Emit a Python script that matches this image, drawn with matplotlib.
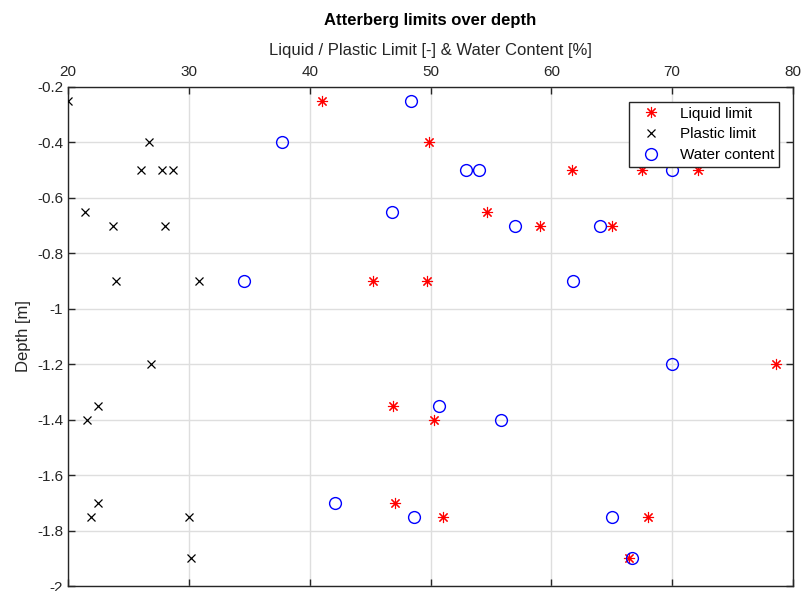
import numpy as np
from matplotlib import pyplot as plt

plt.rcParams['font.family'] = ['Liberation Sans', 'DejaVu Sans']

# Sample depths [m], shared by all three series
depth = [-0.25, -0.4, -0.5, -0.5, -0.5, -0.65, -0.7, -0.7, -0.9, -0.9,
         -1.2, -1.35, -1.4, -1.7, -1.75, -1.75, -1.9]

liquid_limit = [41.0, 49.9, 61.75, 67.5, 72.15, 54.7, 59.1, 65.0, 45.2, 49.7,
                78.6, 46.9, 50.3, 47.1, 51.0, 68.0, 66.4]
plastic_limit = [20.0, 26.7, 26.0, 27.75, 28.7, 21.4, 23.7, 28.0, 24.0, 30.8,
                 26.9, 22.5, 21.6, 22.5, 21.9, 30.0, 30.2]
water_content = [48.4, 37.7, 52.9, 54.0, 70.0, 46.8, 57.0, 64.0, 34.6, 61.8,
                 70.0, 50.7, 55.8, 42.1, 48.6, 65.0, 66.7]

xticks = [20, 30, 40, 50, 60, 70, 80]
yticks = [-0.2, -0.4, -0.6, -0.8, -1.0, -1.2, -1.4, -1.6, -1.8, -2.0]
ytick_labels = ['-0.2', '-0.4', '-0.6', '-0.8', '-1', '-1.2', '-1.4',
                '-1.6', '-1.8', '-2']

axis_col = '#262626'

fig = plt.figure(figsize=(8.01, 5.91), dpi=100)
ax = fig.add_axes([68 / 801, 1 - 586 / 591, 725 / 801, 499 / 591])

# Plot the three series, MATLAB style markers
ax.plot(liquid_limit, depth, linestyle='none', marker=(8, 2, 0), color='red',
        markersize=8, markeredgewidth=0.8, label='Liquid limit', zorder=3)
ax.plot(plastic_limit, depth, linestyle='none', marker='x', color='black',
        markersize=6, markeredgewidth=0.9, label='Plastic limit', zorder=3)
ax.plot(water_content, depth, linestyle='none', marker='o', color='blue',
        markerfacecolor='none', markersize=8.5, markeredgewidth=1,
        label='Water content', zorder=3)

ax.set_xlim(20, 80)
ax.set_ylim(-2, -0.2)
ax.set_xticks(xticks)
ax.set_yticks(yticks)
ax.set_yticklabels(ytick_labels)

# x axis on top
ax.xaxis.tick_top()
ax.xaxis.set_label_position('top')
ax.tick_params(axis='both', which='both', direction='in', length=5,
               width=1, colors=axis_col, labelsize=11, top=True, bottom=True,
               left=True, right=True, labeltop=True, labelbottom=False)
ax.tick_params(axis='x', pad=6)
for s in ax.spines.values():
    s.set_color(axis_col)
    s.set_linewidth(1)

ax.grid(True, color='#dedede', linewidth=1)
ax.set_axisbelow(True)

ax.set_xlabel('Liquid / Plastic Limit [-] & Water Content [%]', fontsize=12,
              color=axis_col, labelpad=7)
ax.set_ylabel('Depth [m]', fontsize=12, color=axis_col, labelpad=4)
ax.set_title('Atterberg limits over depth', fontsize=12, fontweight='bold',
             pad=45)

leg = ax.legend(loc='upper right', bbox_to_anchor=(0.98, 0.97), fontsize=11,
                fancybox=False, framealpha=1, edgecolor=axis_col,
                borderpad=0.3, labelspacing=0.45, handletextpad=0.8,
                handlelength=2.2, borderaxespad=0)
leg.get_frame().set_linewidth(1)

fig.savefig('out.png', dpi=100)
